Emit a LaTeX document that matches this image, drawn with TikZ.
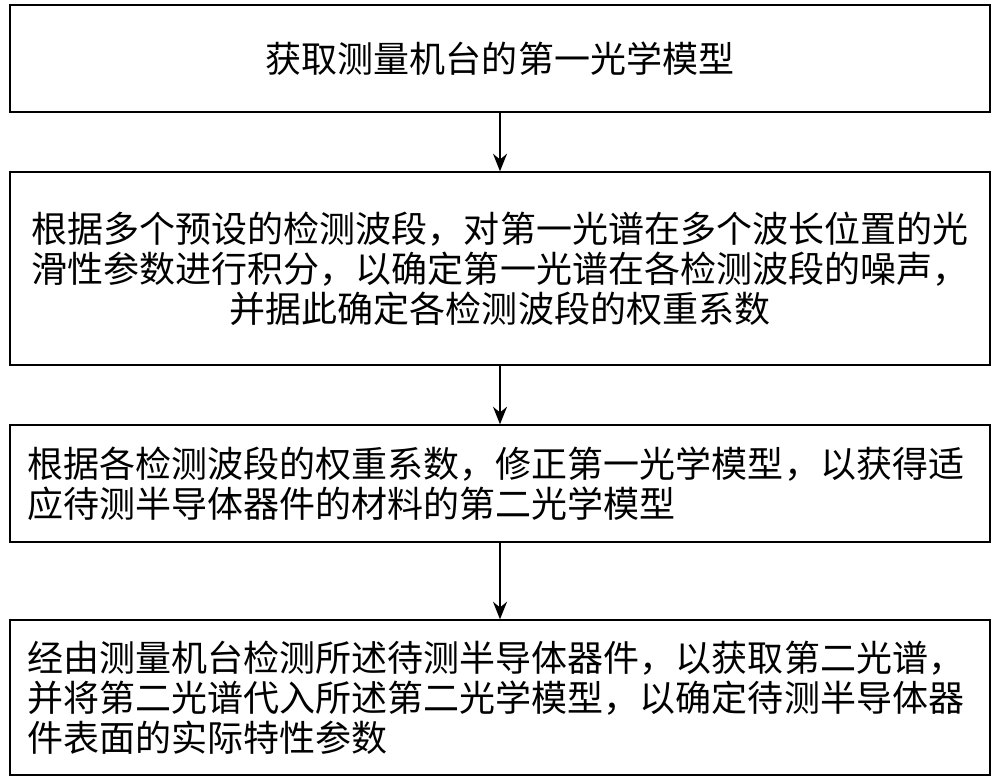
\documentclass[tikz,border=0pt]{standalone}
\usepackage{fontspec}
\setmainfont{Noto Sans CJK SC}
\usetikzlibrary{arrows.meta}
\tikzset{
	stepbox/.style={draw=black, line width=0.8pt, minimum width=19.6cm, text width=18.9cm, inner sep=0pt, font=\fontsize{20.5}{22.8}\selectfont},
	flow/.style={-{Stealth[length=10pt,width=8pt]}, line width=0.8pt}
}
\begin{document}
\begin{tikzpicture}
	\useasboundingbox (0,0) rectangle (20,-15.64);
	\node[stepbox, align=center, minimum height=2.14cm](first) at (10,-1.17){获取测量机台的第一光学模型};
	\node[stepbox, align=center, minimum height=3.86cm](second) at (10,-5.37){根据多个预设的检测波段，对第一光谱在多个波长位置的光\\滑性参数进行积分，以确定第一光谱在各检测波段的噪声，\\并据此确定各检测波段的权重系数};
	\node[stepbox, align=left, minimum height=2.34cm](third) at (10,-9.67){根据各检测波段的权重系数，修正第一光学模型，以获得适\\应待测半导体器件的材料的第二光学模型};
	\node[stepbox, align=left, minimum height=3.1cm](fourth) at (10,-13.95){经由测量机台检测所述待测半导体器件，以获取第二光谱，\\并将第二光谱代入所述第二光学模型，以确定待测半导体器\\件表面的实际特性参数};

	\draw [flow] (first.south) -- (second.north);
	\draw [flow] (second.south) -- (third.north);
	\draw [flow] (third.south) -- (fourth.north);
\end{tikzpicture}
\end{document}
